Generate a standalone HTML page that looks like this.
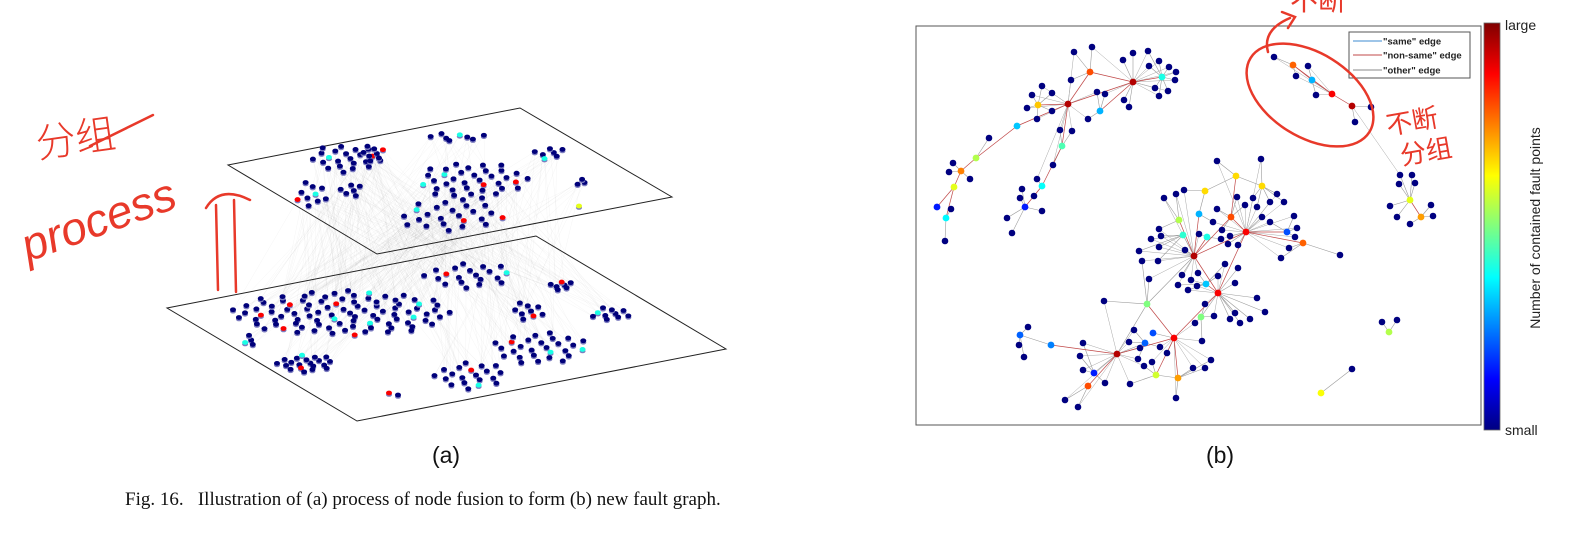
<!DOCTYPE html>
<html><head><meta charset="utf-8">
<style>
html,body{margin:0;padding:0;background:#fff;}
body{width:1582px;height:545px;overflow:hidden;position:relative;font-family:"Liberation Sans",sans-serif;}
svg{position:absolute;left:0;top:0;}
</style></head>
<body>
<svg id="fig" width="1582" height="545" viewBox="0 0 1582 545" xmlns="http://www.w3.org/2000/svg">
  <defs>
    <linearGradient id="jet" x1="0" y1="0" x2="0" y2="1">
      <stop offset="0" stop-color="#800000"/>
      <stop offset="0.125" stop-color="#ff0000"/>
      <stop offset="0.375" stop-color="#ffff00"/>
      <stop offset="0.625" stop-color="#00ffff"/>
      <stop offset="0.875" stop-color="#0000ff"/>
      <stop offset="1" stop-color="#000080"/>
    </linearGradient>
  </defs>
  <g id="panelA">
    <g id="aLinks"></g>
    <polygon points="228,165 520,108 672,197 377,254" fill="none" stroke="#222" stroke-width="1"/>
    <polygon points="167,308 536,236 726,349 357,421" fill="none" stroke="#222" stroke-width="1"/>
    <g id="aNodes"></g>
  </g>
  <g id="panelB">
    <rect x="916" y="26" width="565" height="399" fill="#fff" stroke="#555" stroke-width="1"/>
    <g id="bEdges"></g>
    <g id="bNodes"></g>
    <g>
      <rect x="1349" y="32" width="121" height="46" fill="#fff" stroke="#555" stroke-width="1"/>
      <line x1="1353" y1="41" x2="1382" y2="41" stroke="#7fb2e0" stroke-width="1.5"/>
      <text x="1383" y="44.5" font-size="9.5" font-weight="bold" fill="#222">"same" edge</text>
      <line x1="1353" y1="55" x2="1382" y2="55" stroke="#c04848" stroke-width="1"/>
      <text x="1383" y="58.5" font-size="9.5" font-weight="bold" fill="#222">"non-same" edge</text>
      <line x1="1353" y1="70" x2="1382" y2="70" stroke="#888" stroke-width="1"/>
      <text x="1383" y="73.5" font-size="9.5" font-weight="bold" fill="#222">"other" edge</text>
    </g>
    <rect x="1484" y="23" width="16" height="407" fill="url(#jet)" stroke="#666" stroke-width="0.8"/>
    <text x="1505" y="30" font-size="14" fill="#222">large</text>
    <text x="1505" y="435" font-size="14" fill="#222">small</text>
    <text transform="translate(1540,228) rotate(-90)" text-anchor="middle" font-size="14" fill="#222">Number of contained fault points</text>
  </g>
  <text x="446" y="463" text-anchor="middle" font-size="23" fill="#111">(a)</text>
  <text x="1220" y="463" text-anchor="middle" font-size="23" fill="#111">(b)</text>
  <text x="125" y="505" font-family="Liberation Serif, serif" font-size="19" fill="#111" xml:space="preserve">Fig. 16.   Illustration of (a) process of node fusion to form (b) new fault graph.</text>
  <g fill="none" stroke="#e8392a" stroke-width="2.5" stroke-linecap="round">
    <text transform="translate(38,158) rotate(-8)" font-family="Noto Sans CJK SC, sans-serif" font-size="40" fill="#e8392a" stroke="none" font-weight="300">分组</text>
    <path d="M90 146 L153 115"/>
    <text transform="translate(28,262) rotate(-20)" font-family="Liberation Sans, sans-serif" font-style="italic" font-size="46" fill="#e8392a" stroke="none">process</text>
    <path d="M218 290 L216 205 M236 292 L234 200 M206 208 Q220 185 250 200"/>
    <ellipse cx="1310" cy="95" rx="70" ry="42" transform="rotate(32 1310 95)"/>
    <path d="M1268 52 Q1262 30 1290 18 M1282 12 L1295 17 L1288 28"/>
    <text transform="translate(1290,10)" font-family="Noto Sans CJK SC, sans-serif" font-size="28" fill="#e8392a" stroke="none">不断</text>
    <text transform="translate(1388,135) rotate(-10)" font-family="Noto Sans CJK SC, sans-serif" font-size="26" fill="#e8392a" stroke="none">不断</text>
    <text transform="translate(1402,165) rotate(-10)" font-family="Noto Sans CJK SC, sans-serif" font-size="26" fill="#e8392a" stroke="none">分组</text>
  </g>
</svg>
<script>
// ---- panel (b) data ----
const coloredNodes = [
 [1133,82,.95],[1068,104,.95],[1090,72,.8],[1162,77,.4],[1100,111,.3],[1017,126,.32],[1038,105,.68],[1062,146,.45],
 [976,158,.55],[961,171,.75],[954,187,.6],[937,207,.15],[946,218,.37],[1042,186,.38],[1025,207,.15],
 [1293,65,.78],[1312,80,.3],[1332,94,.88],[1352,106,.95],
 [1194,256,.95],[1246,232,.88],[1218,293,.88],[1174,338,.88],[1117,354,.95],[1231,217,.8],
 [1205,191,.66],[1236,176,.66],[1262,186,.66],[1179,220,.55],[1199,214,.3],[1183,235,.42],[1207,237,.4],
 [1303,243,.78],[1287,232,.2],[1206,284,.32],[1201,317,.5],[1147,304,.5],[1153,333,.2],[1145,343,.22],
 [1051,345,.25],[1020,335,.22],[1156,375,.58],[1178,378,.72],[1088,386,.8],[1094,373,.15],
 [1410,200,.6],[1421,217,.72],[1389,332,.55],[1321,393,.62]
];
const redEdges = [[0,1],[0,2],[0,4],[1,2],[1,6],[1,5],[5,8],[8,9],[9,10],[10,11],[10,12],[1,7],[7,13],[13,14],[0,3],
 [15,16],[16,17],[17,18],[15,17],[19,20],[19,21],[19,24],[20,24],[21,20],[22,21],[22,23],[19,28],[24,26],[20,32],
 [21,34],[22,36],[23,43],[23,39],[22,41],[22,42],[19,29],[45,46],[19,31],[20,33]];
const grayEdges = [[36,19],[36,23],[25,26],[26,27],[25,29],[39,40],[23,44],[41,42],[30,19],[35,21],[37,22],[38,23]];
const darkNodes = [
 [1074,52],[1092,47],[1123,60],[1133,53],[1148,51],[1149,66],[1159,61],[1169,67],[1176,72],[1175,80],[1168,91],[1159,96],[1155,88],[1129,107],[1124,100],[1105,94],[1097,92],
 [1071,80],[1052,93],[1042,86],[1032,95],[1027,108],[1052,111],[1037,119],[1060,130],[1072,131],[1088,119],
 [989,138],[953,163],[949,172],[970,179],[951,209],[945,241],
 [1053,165],[1037,179],[1022,189],[1020,198],[1034,196],[1042,211],[1007,218],[1012,233],
 [1274,57],[1308,66],[1296,76],[1316,95],[1371,107],[1355,122],
 [1217,161],[1261,159],[1277,194],[1284,202],[1270,202],[1253,198],[1237,197],[1245,205],[1257,207],[1262,217],[1270,222],
 [1294,216],[1297,228],[1295,237],[1289,248],[1281,258],[1340,255],[1184,190],[1176,194],[1164,198],[1217,209],[1213,222],
 [1222,230],[1230,236],[1221,239],[1228,244],[1238,245],[1199,234],[1159,229],[1161,236],[1151,239],[1159,247],[1139,251],
 [1185,250],[1142,261],[1158,261],[1225,264],[1238,268],[1198,273],[1182,275],[1218,276],[1191,280],[1178,285],[1188,290],
 [1197,286],[1235,283],[1149,279],[1257,298],[1265,312],[1205,304],[1235,313],[1214,316],[1230,319],[1240,323],[1250,319],
 [1195,323],[1202,341],[1211,360],[1205,368],[1193,368],[1104,301],[1134,330],[1129,342],[1140,348],[1160,347],[1167,353],
 [1152,362],[1138,359],[1144,366],[1083,343],[1080,356],[1083,370],[1105,383],[1130,384],[1176,398],[1065,400],[1078,407],
 [1028,327],[1019,345],[1024,357],
 [1400,175],[1412,175],[1399,184],[1415,183],[1390,206],[1397,217],[1410,224],[1431,205],[1433,216],
 [1382,322],[1397,320],[1352,369]
];
// ---- panel (a) data: node blobs [x0,y0,x1,y1,count] ----
const topBlobs = [[309,144,381,173,22],[296,179,328,209,10],[339,182,362,199,6],[421,133,495,141,8],[417,161,529,199,36],[396,199,506,232,24],[531,146,567,159,7],[574,179,589,186,3],[360,145,387,162,8]];
const bottomBlobs = [[231,290,453,336,95],[241,334,256,346,4],[275,354,336,372,20],[421,262,516,288,20],[548,280,574,290,7],[591,306,631,321,10],[510,301,544,321,9],[491,331,589,364,28],[432,361,508,389,20]];
const singles = [[389,393,.88],[398,395,0],[579,206,.6]];

const NS = 'http://www.w3.org/2000/svg';
function jet(v){
  const r = Math.max(0,Math.min(1,1.5-Math.abs(4*v-3)));
  const g = Math.max(0,Math.min(1,1.5-Math.abs(4*v-2)));
  const b = Math.max(0,Math.min(1,1.5-Math.abs(4*v-1)));
  return 'rgb('+Math.round(r*255)+','+Math.round(g*255)+','+Math.round(b*255)+')';
}
function mk(tag, attrs, parent){
  const e = document.createElementNS(NS, tag);
  for (const k in attrs) e.setAttribute(k, attrs[k]);
  parent.appendChild(e);
  return e;
}
const bE = document.getElementById('bEdges'), bN = document.getElementById('bNodes');
const hubs = coloredNodes.filter(n => n[2] >= 0.85);
function nearest(p, list){
  let best=null, bd=1e9;
  for (const q of list){ const d=Math.hypot(p[0]-q[0],p[1]-q[1]); if (d>0 && d<bd){bd=d;best=q;} }
  return [best,bd];
}
darkNodes.forEach(p => {
  const [q] = nearest(p, coloredNodes);
  const l = mk('line',{x1:p[0],y1:p[1],x2:q[0],y2:q[1],stroke:'#9a9a9a','stroke-width':0.6}, bE);
  
  
  const [h, hd] = nearest(p, hubs);
  if (h && h !== q && hd < 85){
    const l2 = mk('line',{x1:p[0],y1:p[1],x2:h[0],y2:h[1],stroke:'#a8a8a8','stroke-width':0.5}, bE);
    
    
  }
});
grayEdges.forEach(([a,b]) => {
  const l = mk('line',{x1:coloredNodes[a][0],y1:coloredNodes[a][1],x2:coloredNodes[b][0],y2:coloredNodes[b][1],stroke:'#9a9a9a','stroke-width':0.6}, bE);
  
  
});
redEdges.forEach(([a,b]) => {
  const l = mk('line',{x1:coloredNodes[a][0],y1:coloredNodes[a][1],x2:coloredNodes[b][0],y2:coloredNodes[b][1],stroke:'#c04848','stroke-width':0.7}, bE);
  
  
});
darkNodes.forEach(p => {
  const c = mk('circle',{cx:p[0],cy:p[1],r:3.3,fill:'#000080'}, bN);
  
  
});
coloredNodes.forEach(p => {
  const c = mk('circle',{cx:p[0],cy:p[1],r:3.4,fill:jet(p[2])}, bN);
  
  
});
// panel a
const aL = document.getElementById('aLinks'), aN = document.getElementById('aNodes');
function blobPoints(b){
  const pts=[]; const [x0,y0,x1,y1,n]=b;
  const cx=(x0+x1)/2, cy=(y0+y1)/2, rx=(x1-x0)/2, ry=(y1-y0)/2;
  for (let i=0;i<n;i++){
    const r=Math.sqrt((i+0.5)/n), t=i*2.39996;
    pts.push([cx+rx*r*Math.cos(t), cy+ry*r*Math.sin(t), i]);
  }
  return pts;
}
const topPts=[], botPts=[];
topBlobs.forEach(b => topPts.push(...blobPoints(b)));
bottomBlobs.forEach(b => botPts.push(...blobPoints(b)));
for (let i=0;i<botPts.length*2;i++){
  const t = topPts[(i*7)%topPts.length], p = botPts[i%botPts.length];
  const l = mk('line',{x1:t[0],y1:t[1],x2:p[0],y2:p[1],stroke:'#000','stroke-opacity':0.045,'stroke-width':0.5}, aL);
  
  
}
function drawA(p, color){
  mk('ellipse',{cx:p[0],cy:p[1]+1.8,rx:3,ry:2,fill:'#7d7dc0'}, aN);
  const e = mk('ellipse',{cx:p[0],cy:p[1],rx:3,ry:2.4,fill:color}, aN);
  
  
}
const palette=[.95,.88,.7,.55,.4,.3];
topPts.concat(botPts).forEach((p,i) => {
  drawA(p, (i%9===4) ? jet(palette[i%palette.length]) : '#00007a');
});
singles.forEach(s => drawA(s, s[2] ? jet(s[2]) : '#00007a'));
</script>
</body></html>
